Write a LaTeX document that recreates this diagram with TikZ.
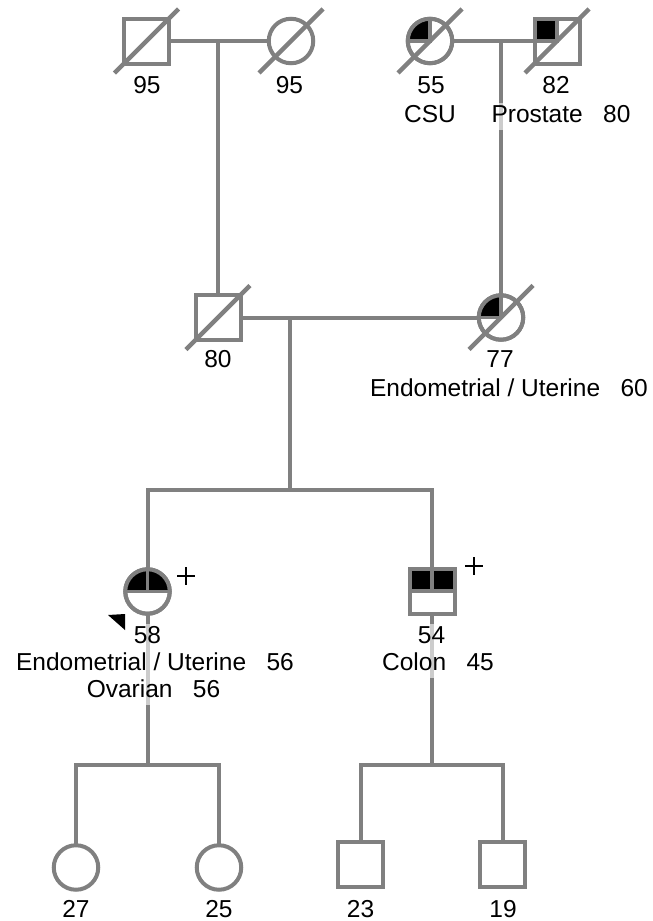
\documentclass[tikz,border=0pt]{standalone}
\usepackage{fontspec}
\setmainfont{Liberation Sans}
\usetikzlibrary{calc}
\definecolor{pg}{RGB}{128,128,128}
\begin{document}
\begin{tikzpicture}[x=1pt,y=-1pt,
  ln/.style={draw=pg,line width=4pt},
  sq/.style={rectangle,draw=pg,fill=white,line width=4pt,minimum size=45pt,inner sep=0pt,outer sep=0pt},
  ci/.style={circle,draw=pg,fill=white,line width=4pt,minimum size=44.5pt,inner sep=0pt,outer sep=0pt},
  slash/.style={draw=pg,line width=4.5pt},
  divl/.style={draw=pg,line width=3.5pt},
  lbl/.style={anchor=base,inner xsep=1pt,inner ysep=1.5pt,text height=18pt,text depth=6pt,fill=white,fill opacity=0.6,text opacity=1,font=\fontsize{24.5}{29}\selectfont},
  lblb/.style={anchor=base,inner sep=0pt,font=\fontsize{24.5}{29}\selectfont},
  plusmark/.style={draw=black,line width=2.8pt},
]
\useasboundingbox (0,0) rectangle (653,921);

% symbols
\node[sq] (gf1) at (146.5,41) {};
\node[ci] (gm1) at (291,41) {};
\node[ci] (gm2) at (430,41) {};
\node[sq] (gf2) at (557,41) {};
\node[sq] (fa) at (218,317.5) {};
\node[ci] (mo) at (501,317.5) {};
\node[ci] (pro) at (147.5,591.5) {};
\node[sq] (bro) at (432,591) {};
\node[ci] (d1) at (76,867.5) {};
\node[ci] (d2) at (219,867.5) {};
\node[sq] (s1) at (360.5,864.5) {};
\node[sq] (s2) at (502.5,864.5) {};

% connectors
\coordinate (m1) at (218,41);
\coordinate (m2) at (501,41);
\coordinate (m3) at (290,317.5);
\coordinate (sib) at (290,490);
\coordinate (pd) at (147.5,765);
\coordinate (bd) at (432,765);

\draw[ln] (gf1) -- (gm1);
\draw[ln] (gm2) -- (gf2);
\draw[ln] (m1) -- (m1 |- fa.north);
\draw[ln] (m2) -- (m2 |- mo.north);
\draw[ln] (fa) -- (mo);
\draw[ln] (m3) -- (sib);
\draw[ln] (pro.north) -- (pro.north |- sib) -- (bro.north |- sib) -- (bro.north);
\draw[ln] (pro.south) -- (pd);
\draw[ln] (d1.north) -- (d1.north |- pd) -- (d2.north |- pd) -- (d2.north);
\draw[ln] (bro.south) -- (bd);
\draw[ln] (s1.north) -- (s1.north |- bd) -- (s2.north |- bd) -- (s2.north);

% affected fills
\begin{scope}
  \clip (gm2.center) circle[radius=22.25pt];
  \fill[black] (gm2.center) rectangle ++(-25,-25);
\end{scope}
\draw[divl] (gm2.north) -- (gm2.center) -- (gm2.west);
\draw[ln] (gm2.center) circle[radius=22.25pt];

\fill[black] (gf2.center) rectangle (gf2.north west);
\draw[divl] (gf2.north) -- (gf2.center) -- (gf2.west);
\draw[ln] (gf2.north west) rectangle (gf2.south east);

\begin{scope}
  \clip (mo.center) circle[radius=22.25pt];
  \fill[black] (mo.center) rectangle ++(-25,-25);
\end{scope}
\draw[divl] (mo.north) -- (mo.center) -- (mo.west);
\draw[ln] (mo.center) circle[radius=22.25pt];

\begin{scope}
  \clip (pro.center) circle[radius=22.25pt];
  \fill[black] (pro.west) rectangle ++(45,-25);
\end{scope}
\draw[divl] (pro.west) -- (pro.east);
\draw[divl] (pro.north) -- (pro.center);
\draw[ln] (pro.center) circle[radius=22.25pt];

\fill[black] (bro.west) rectangle (bro.north east);
\draw[divl] (bro.west) -- (bro.east);
\draw[divl] (bro.north) -- (bro.center);
\draw[ln] (bro.north west) rectangle (bro.south east);

% deceased slashes
\foreach \n in {gf1,gm1,gm2,gf2,fa,mo}{
  \draw[slash] ($(\n.center)+(-32,32)$) -- ($(\n.center)+(32,-32)$);
}

% labels
\node[lbl] (l1) at (147,93) {95};
\node[lbl] (l2) at (289.5,93) {95};
\node[lbl] (l3) at (431,93) {55};
\node[lbl] (l4) at (430,122) {CSU};
\node[lbl] (l5) at (556,93) {82};
\node[lbl] (l6) at (561,122) {Prostate\ \ \ 80};
\node[lbl] (l7) at (218,367) {80};
\node[lbl] (l8) at (500,367) {77};
\node[lbl] (l9) at (509,396) {Endometrial / Uterine\ \ \ 60};
\node[lbl] (l10) at (147.5,643) {58};
\node[lbl] (l11) at (155,670) {Endometrial / Uterine\ \ \ 56};
\node[lbl] (l12) at (153.5,697) {Ovarian\ \ \ 56};
\node[lbl] (l13) at (431.5,643) {54};
\node[lbl] (l14) at (438,670) {Colon\ \ \ 45};
\node[lblb] (l15) at (76,917.5) {27};
\node[lblb] (l16) at (219,917.5) {25};
\node[lblb] (l17) at (360.5,917.5) {23};
\node[lblb] (l18) at (503,917.5) {19};

% carrier plus marks
\draw[plusmark] (177,576) -- (195,576) (186,567) -- (186,585);
\draw[plusmark] (465,566) -- (483,566) (474,557) -- (474,575);

% proband arrow
\fill[black] (108,615) -- (125,614) -- (125,630) -- cycle;
\end{tikzpicture}
\end{document}
